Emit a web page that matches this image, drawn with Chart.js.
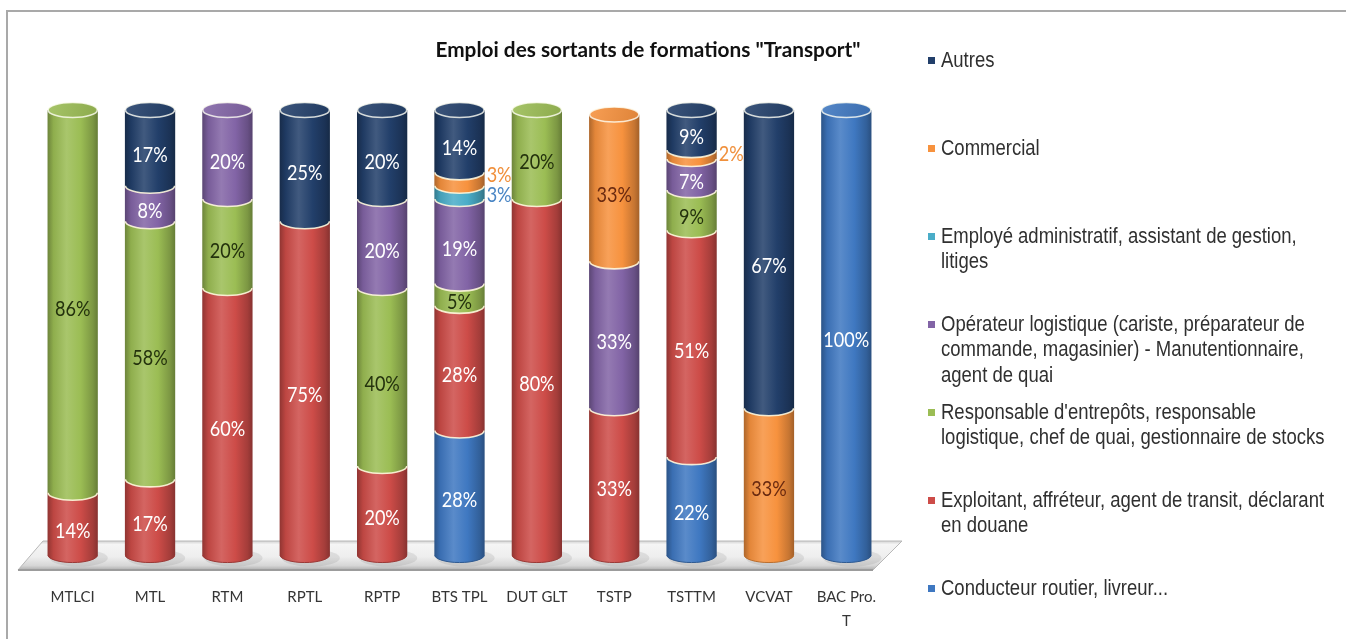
<!DOCTYPE html>
<html>
<head>
<meta charset="utf-8">
<title>Emploi des sortants de formations "Transport"</title>
<script src="https://cdn.jsdelivr.net/npm/chart.js@4.4.1/dist/chart.umd.min.js"></script>
<style>
  html, body { margin: 0; padding: 0; background: #ffffff; overflow: hidden; }
  canvas { display: block; }
</style>
</head>
<body>
<canvas id="chart" width="1346" height="639"></canvas>
<script>
// Training programmes (x categories)
const categories = ['MTLCI', 'MTL', 'RTM', 'RPTL', 'RPTP', 'BTS TPL', 'DUT GLT', 'TSTP', 'TSTTM', 'VCVAT', ['BAC Pro.', 'T']];

// Share of leavers per job family, in %, stacked from bottom to top
const conducteur  = [0,  0,  0,  0,  0, 28,  0,  0, 22,  0, 100];
const exploitant  = [14, 17, 60, 75, 20, 28, 80, 33, 51,  0,   0];
const responsable = [86, 58, 20,  0, 40,  5, 20,  0,  9,  0,   0];
const operateur   = [0,  8, 20,  0, 20, 19,  0, 33,  7,  0,   0];
const employe     = [0,  0,  0,  0,  0,  3,  0,  0,  0,  0,   0];
const commercial  = [0,  0,  0,  0,  0,  3,  0, 33,  2, 33,   0];
const autres      = [0, 17,  0, 25, 20, 14,  0,  0,  9, 67,   0];

// Legend text, one array entry per printed line
const conducteurLines  = ['Conducteur routier, livreur...'];
const exploitantLines  = ['Exploitant, affréteur, agent de transit, déclarant', 'en douane'];
const responsableLines = ["Responsable d'entrepôts, responsable", 'logistique, chef de quai, gestionnaire de stocks'];
const operateurLines   = ['Opérateur logistique (cariste, préparateur de', 'commande, magasinier) - Manutentionnaire,', 'agent de quai'];
const employeLines     = ['Employé administratif, assistant de gestion,', 'litiges'];
const commercialLines  = ['Commercial'];
const autresLines      = ['Autres'];

const chartTitle = 'Emploi des sortants de formations "Transport"';

const seriesValues = [conducteur, exploitant, responsable, operateur, employe, commercial, autres];
const seriesLines  = [conducteurLines, exploitantLines, responsableLines, operateurLines, employeLines, commercialLines, autresLines];
const seriesColors = ['#3F78C1', '#CD4C48', '#9BBD54', '#8264A6', '#4AADC8', '#F7923E', '#223F6A'];
const insideLabelColors  = ['#FFFFFF', '#FFFFFF', '#24320D', '#FFFFFF', '#FFFFFF', '#6A2A10', '#FFFFFF'];
const outsideLabelColors = ['#3F78C1', '#C94F4B', '#6F8F2E', '#8264A6', '#4A86C5', '#F0903C', '#223F6A'];

// ---- colour helpers ----
function shade(hex, f) {
  const n = parseInt(hex.slice(1), 16);
  let r = (n >> 16) & 255, g = (n >> 8) & 255, b = n & 255;
  if (f >= 1) {
    const t = f - 1;
    r += (255 - r) * t; g += (255 - g) * t; b += (255 - b) * t;
  } else {
    r *= f; g *= f; b *= f;
  }
  return 'rgb(' + Math.round(r) + ',' + Math.round(g) + ',' + Math.round(b) + ')';
}

// Horizontally condensed text
function condensedText(ctx, text, x, y, align, sx) {
  ctx.save();
  ctx.translate(x, y);
  ctx.scale(sx, 1);
  ctx.textAlign = align;
  ctx.fillText(text, 0, 0);
  ctx.restore();
}

const TEXT_SX = 0.86;

const cylinderPlugin = {
  id: 'cylinders',
  beforeDraw(chart) {
    const ctx = chart.ctx;
    ctx.save();
    ctx.fillStyle = '#ffffff';
    ctx.fillRect(0, 0, chart.width, chart.height);
    // frame
    ctx.strokeStyle = '#a9a9a9';
    ctx.lineWidth = 2;
    ctx.beginPath();
    ctx.moveTo(7, chart.height);
    ctx.lineTo(7, 11);
    ctx.lineTo(chart.width, 11);
    ctx.stroke();
    ctx.restore();
  },
  beforeDatasetsDraw(chart) {
    // 3D floor under the cylinders
    const ctx = chart.ctx;
    const a = chart.chartArea;
    const yb = chart.scales.y.getPixelForValue(0);
    const top = yb - 14, bot = yb + 15;
    ctx.save();
    ctx.beginPath();
    ctx.moveTo(a.left + 9, top);
    ctx.lineTo(a.right + 17, top);
    ctx.lineTo(a.right - 12, bot);
    ctx.lineTo(a.left - 16, bot);
    ctx.closePath();
    const g = ctx.createLinearGradient(0, top, 0, bot);
    g.addColorStop(0, '#d2d2d2');
    g.addColorStop(0.12, '#f5f5f5');
    g.addColorStop(0.55, '#eeeeee');
    g.addColorStop(0.85, '#d6d6d6');
    g.addColorStop(1, '#adadad');
    ctx.fillStyle = g;
    ctx.fill();
    ctx.strokeStyle = '#b8b8b8';
    ctx.lineWidth = 1;
    ctx.stroke();
    ctx.strokeStyle = '#9c9c9c';
    ctx.lineWidth = 2;
    ctx.beginPath();
    ctx.moveTo(a.left - 16, bot);
    ctx.lineTo(a.right - 12, bot);
    ctx.stroke();
    ctx.restore();
  },
  beforeDatasetDraw() {
    // bars are rendered as cylinders below
    return false;
  },
  afterDatasetsDraw(chart) {
    const ctx = chart.ctx;
    const nSeries = chart.data.datasets.length;
    const metas = chart.data.datasets.map((d, i) => chart.getDatasetMeta(i));
    const nCat = chart.data.labels.length;

    for (let j = 0; j < nCat; j++) {
      let topIdx = -1, firstIdx = -1;
      for (let i = 0; i < nSeries; i++) {
        if (chart.data.datasets[i].data[j] > 0) { topIdx = i; if (firstIdx < 0) firstIdx = i; }
      }
      // shadow on the floor
      if (firstIdx >= 0) {
        const el0 = metas[firstIdx].data[j].getProps(['x', 'base', 'width'], true);
        ctx.save();
        ctx.fillStyle = 'rgba(120,120,120,0.16)';
        ctx.beginPath();
        ctx.ellipse(el0.x + 6, el0.base + 3, el0.width / 2 + 4, el0.width * 0.17, 0, 0, Math.PI * 2);
        ctx.fill();
        ctx.restore();
      }
      for (let i = 0; i < nSeries; i++) {
        const v = chart.data.datasets[i].data[j];
        if (!(v > 0)) continue;
        const p = metas[i].data[j].getProps(['x', 'y', 'base', 'width'], true);
        const c = seriesColors[i];
        const rx = p.width / 2, ry = rx * 0.3;
        const x = p.x, yTop = Math.min(p.y, p.base), yBase = Math.max(p.y, p.base);

        ctx.save();
        ctx.beginPath();
        ctx.moveTo(x - rx, yTop);
        ctx.lineTo(x - rx, yBase);
        ctx.ellipse(x, yBase, rx, ry, 0, Math.PI, 0, true);
        ctx.lineTo(x + rx, yTop);
        ctx.closePath();
        const g = ctx.createLinearGradient(x - rx, 0, x + rx, 0);
        g.addColorStop(0, shade(c, 0.7));
        g.addColorStop(0.12, shade(c, 0.92));
        g.addColorStop(0.38, shade(c, 1.14));
        g.addColorStop(0.66, shade(c, 1.0));
        g.addColorStop(0.9, shade(c, 0.8));
        g.addColorStop(1, shade(c, 0.66));
        ctx.fillStyle = g;
        ctx.fill();

        // segment edge
        ctx.beginPath();
        ctx.ellipse(x, yBase, rx - 0.5, ry, 0, Math.PI, 0, true);
        if (i === firstIdx) {
          ctx.strokeStyle = shade(c, 0.75);
          ctx.lineWidth = 1;
        } else {
          ctx.strokeStyle = 'rgba(255,248,222,0.9)';
          ctx.lineWidth = 1.6;
        }
        ctx.stroke();

        // top cap
        if (i === topIdx) {
          ctx.beginPath();
          ctx.ellipse(x, yTop, rx - 0.5, ry, 0, 0, Math.PI * 2);
          const gc = ctx.createLinearGradient(x - rx, yTop - ry, x + rx, yTop + ry);
          gc.addColorStop(0, shade(c, 1.12));
          gc.addColorStop(1, shade(c, 0.9));
          ctx.fillStyle = gc;
          ctx.fill();
          ctx.strokeStyle = 'rgba(255,255,245,0.8)';
          ctx.lineWidth = 1.6;
          ctx.stroke();
        }
        ctx.restore();
      }

      // value labels
      const outside = [];
      ctx.save();
      ctx.font = '21px Lato';
      ctx.textBaseline = 'middle';
      for (let i = 0; i < nSeries; i++) {
        const v = chart.data.datasets[i].data[j];
        if (!(v > 0)) continue;
        const p = metas[i].data[j].getProps(['x', 'y', 'base', 'width'], true);
        const rx = p.width / 2, ry = rx * 0.3;
        const mid = (p.y + p.base) / 2;
        if (v <= 3) {
          outside.push({ text: v + '%', x: p.x + rx + 2, y: mid, color: outsideLabelColors[i] });
        } else {
          ctx.fillStyle = insideLabelColors[i];
          condensedText(ctx, v + '%', p.x, mid + ry, 'center', TEXT_SX);
        }
      }
      outside.sort((a, b) => a.y - b.y);
      for (let k = 1; k < outside.length; k++) {
        const gap = outside[k].y - outside[k - 1].y;
        if (gap < 20) {
          const m = (outside[k].y + outside[k - 1].y) / 2;
          outside[k - 1].y = m - 10;
          outside[k].y = m + 10;
        }
      }
      outside.forEach(o => {
        ctx.fillStyle = o.color;
        condensedText(ctx, o.text, o.x, o.y, 'left', TEXT_SX);
      });
      ctx.restore();
    }
  },
  afterDraw(chart) {
    const ctx = chart.ctx;
    ctx.save();
    // title
    ctx.fillStyle = '#111111';
    ctx.font = 'bold 21px Lato';
    ctx.textBaseline = 'middle';
    condensedText(ctx, chartTitle, 648, 50, 'center', 0.99);

    // legend, top entry = last stacked series
    ctx.font = '21.5px "Liberation Sans", Arial, sans-serif';
    ctx.textBaseline = 'middle';
    const nSeries = chart.data.datasets.length;
    for (let k = 0; k < nSeries; k++) {
      const i = nSeries - 1 - k;
      const y0 = 61 + k * 88;
      ctx.fillStyle = seriesColors[i];
      ctx.fillRect(928, y0 - 4, 7, 7);
      ctx.fillStyle = '#303030';
      seriesLines[i].forEach((line, li) => {
        condensedText(ctx, line, 941, y0 + li * 25.5, 'left', TEXT_SX);
      });
    }
    ctx.restore();
  }
};

const datasets = seriesValues.map((vals, i) => ({
  label: seriesLines[i].join(' '),
  data: vals,
  backgroundColor: seriesColors[i],
  borderWidth: 0,
  categoryPercentage: 0.65,
  barPercentage: 1.0
}));

new Chart(document.getElementById('chart'), {
  type: 'bar',
  data: { labels: categories, datasets: datasets },
  options: {
    responsive: false,
    devicePixelRatio: 1,
    animation: false,
    layout: { padding: { left: 34, right: 461, top: 110, bottom: 6 } },
    plugins: {
      legend: { display: false },
      title: { display: false },
      tooltip: { enabled: false }
    },
    scales: {
      x: {
        stacked: true,
        grid: { display: false, drawTicks: false },
        border: { display: false },
        ticks: {
          color: '#353535',
          font: { family: 'Lato', size: 15, lineHeight: 1.55 },
          padding: 31,
          maxRotation: 0,
          autoSkip: false
        },
        afterFit(scale) {
          // room for the two-line labels below the floor
          scale.height = 78;
        }
      },
      y: {
        stacked: true,
        display: false,
        min: 0,
        max: 100
      }
    }
  },
  plugins: [cylinderPlugin]
});
</script>
</body>
</html>
